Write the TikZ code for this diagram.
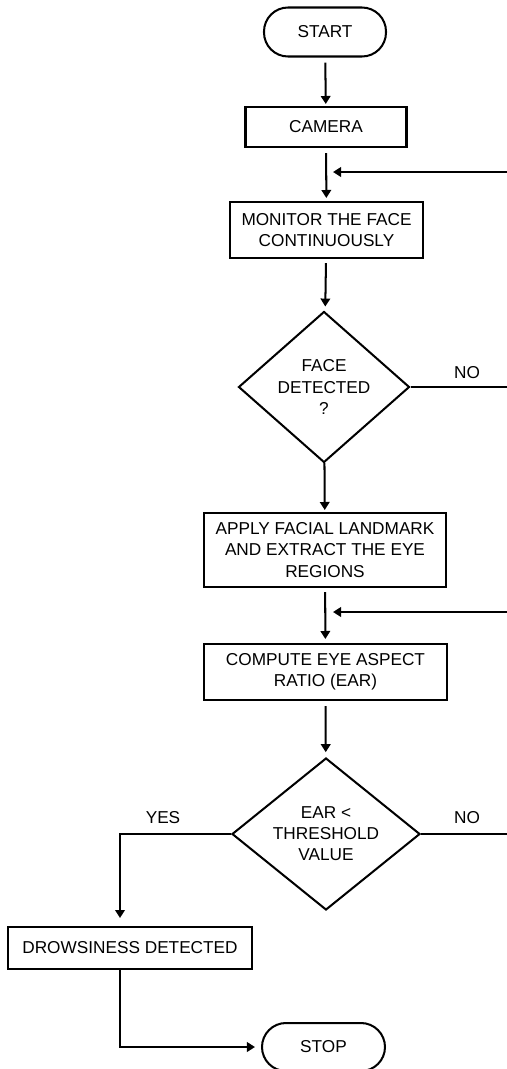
\documentclass[tikz,border=0pt]{standalone}
\usepackage{fontspec}
\setmainfont{Liberation Sans}
\usepackage{tikz}
\usetikzlibrary{arrows.meta, calc, positioning, shapes.geometric}

\tikzset{
	box/.style={draw, line width=1.15pt, align=center, inner sep=0pt},
	terminal/.style={box, rounded corners=0.48cm},
	decision/.style={box, diamond, aspect=1.1},
	arr/.style={line width=1.15pt, -{Triangle[length=1.6mm,width=1.9mm]}},
	flow/.style={line width=1.15pt},
}

\begin{document}
\begin{tikzpicture}[font=\fontsize{9.8pt}{12pt}\selectfont]
			\useasboundingbox (0,0) rectangle (10.12,-21.38);

			\node(start) [terminal, minimum width=2.44cm, minimum height=0.98cm] at (6.50,-0.64) {START};
			\node(cam) [box, minimum width=3.22cm, minimum height=0.80cm] at (6.52,-2.54) {CAMERA};
			\node(mon) [box, minimum width=3.86cm, minimum height=1.12cm] at (6.53,-4.60) {MONITOR THE FACE\\CONTINUOUSLY};
			\node(face) [decision, minimum width=3.42cm, minimum height=3.02cm] at (6.48,-7.74) {FACE\\DETECTED\\?};
			\node(land) [box, minimum width=4.84cm, minimum height=1.48cm] at (6.50,-11.00) {APPLY FACIAL LANDMARK\\AND EXTRACT THE EYE\\REGIONS};
			\node(ear) [box, minimum width=4.86cm, minimum height=1.12cm] at (6.51,-13.44) {COMPUTE EYE ASPECT\\RATIO (EAR)};
			\node(thr) [decision, minimum width=3.76cm, minimum height=3.04cm] at (6.52,-16.68) {EAR <\\THRESHOLD\\VALUE};
			\node(drow) [box, minimum width=4.88cm, minimum height=0.84cm] at (2.60,-18.96) {DROWSINESS DETECTED};
			\node(stop) [terminal, minimum width=2.46cm, minimum height=0.96cm] at (6.47,-20.94) {STOP};

			% labels on the branches
			\node(no1) at (9.34,-7.46) {NO};
			\node(no2) at (9.34,-16.36) {NO};
			\node(yes) at (3.26,-16.36) {YES};

			% loop-back ends at the right margin
			\coordinate(r1) at (10.2,-3.44);
			\coordinate(j1) at (6.66,-3.44);
			\coordinate(r2) at (10.2,-7.74);
			\coordinate(r3) at (10.2,-12.24);
			\coordinate(j3) at (6.66,-12.24);
			\coordinate(r4) at (10.2,-16.68);
			\coordinate(yx) at (2.40,-16.68);
			\coordinate(yd) at (2.40,-18.36);

			\draw[arr, shorten <=0.1cm, shorten >=0.04cm] (start) -- (cam);
			\draw[arr, shorten <=0.1cm, shorten >=0.06cm] (cam) -- (mon);
			\draw[arr, shorten <=0.08cm, shorten >=0.1cm] (mon) -- (face);
			\draw[arr, shorten >=0.04cm] (face) -- (land);
			\draw[arr, shorten <=0.08cm, shorten >=0.08cm] (land) -- (ear);
			\draw[arr, shorten <=0.1cm, shorten >=0.1cm] (ear) -- (thr);

			\draw[arr] (r1) -- (j1);
			\draw[arr] (r3) -- (j3);
			\draw[flow] (face.east) -- (r2);
			\draw[flow] (thr.east) -- (r4);

			\draw[arr] (thr.west) -- (yx) -- (yd);
			\draw[arr, shorten >=0.12cm] (drow.south -| yx) |- (stop.west);
		\end{tikzpicture}
\end{document}
